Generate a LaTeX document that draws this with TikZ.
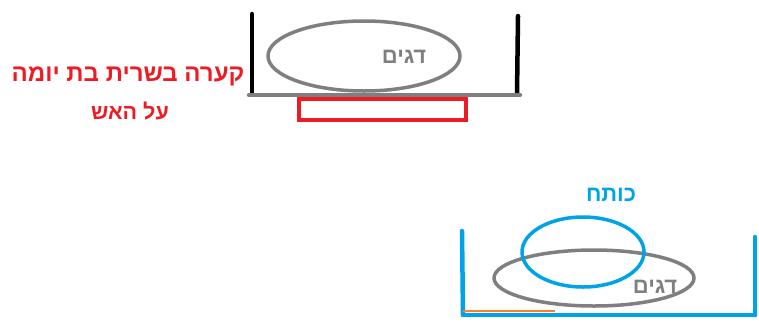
\documentclass[tikz,border=0pt]{standalone}
\usepackage{fontspec}
\setmainfont{Liberation Sans}
\newfontfamily\hebfont[Script=Hebrew]{Liberation Sans}
\TeXXeTstate=1
\usetikzlibrary{shapes.geometric, positioning}
\definecolor{paintred}{RGB}{237,28,36}
\definecolor{paintblue}{RGB}{0,162,232}
\definecolor{paintgray}{RGB}{127,127,127}
\definecolor{paintorange}{RGB}{255,127,39}
\tikzset{
    wall/.style={line width=4.5pt, line cap=round},
    dish/.style={ellipse, draw, line width=3.5pt, inner sep=0pt},
    heb/.style={font=\hebfont\bfseries, inner sep=0pt},
}

\begin{document}
\begin{tikzpicture}[x=1pt, y=-1pt]
    \useasboundingbox (0,0) rectangle (759,322);

    % bowl on the fire
    \coordinate (tl) at (252,14);
    \coordinate (bl) at (252,94);
    \coordinate (tr) at (518,16);
    \coordinate (br) at (517,94);
    \coordinate (gl) at (249,95);
    \coordinate (gr) at (520,95);
    \draw[wall, black] (tl) -- (bl);
    \draw[wall, black] (tr) -- (br);
    \draw[wall, paintgray] (gl) -- (gr);
    \node[dish, draw=paintgray, minimum width=192pt, minimum height=70pt] (fish1) at (364,56) {};
    \node[heb, text=paintgray, font=\hebfont\bfseries\fontsize{22}{25}\selectfont] (fishtxt1) at (404,57) {\beginR דגים\endR};
    \coordinate (fa) at (299,99);
    \coordinate (fb) at (466,120);
    \draw[paintred, line width=3.5pt] (fa) rectangle (fb);
    \node[heb, text=paintred, font=\hebfont\bfseries\fontsize{24}{27}\selectfont] (bowl) at (128,76) {\beginR קערה בשרית בת יומה\endR};
    \node[heb, text=paintred, font=\hebfont\bfseries\fontsize{21.5}{24}\selectfont] (fire) at (130,111) {\beginR על האש\endR};

    % bowl with kutach
    \coordinate (ul) at (462,231);
    \coordinate (dl) at (463,315);
    \coordinate (ur) at (755,237);
    \coordinate (dr) at (755,315);
    \coordinate (ol) at (463,310.5);
    \coordinate (or) at (555,310.5);
    \draw[wall, paintblue] (ul) -- (dl);
    \draw[wall, paintblue] (ur) -- (dr);
    \draw[wall, paintblue] (dl) -- (dr);
    \draw[line width=2pt, paintorange] (ol) -- (or);
    \node[dish, draw=paintgray, minimum width=200pt, minimum height=56pt] (fish2) at (594,278) {};
    \node[dish, draw=paintblue, minimum width=122pt, minimum height=70pt] (kutach) at (583,252) {};
    \node[heb, text=paintgray, font=\hebfont\bfseries\fontsize{22}{25}\selectfont] (fishtxt2) at (655,287) {\beginR דגים\endR};
    \node[heb, text=paintblue, font=\hebfont\bfseries\fontsize{22}{25}\selectfont] (kutachtxt) at (611,195) {\beginR כותח\endR};
\end{tikzpicture}
\end{document}
